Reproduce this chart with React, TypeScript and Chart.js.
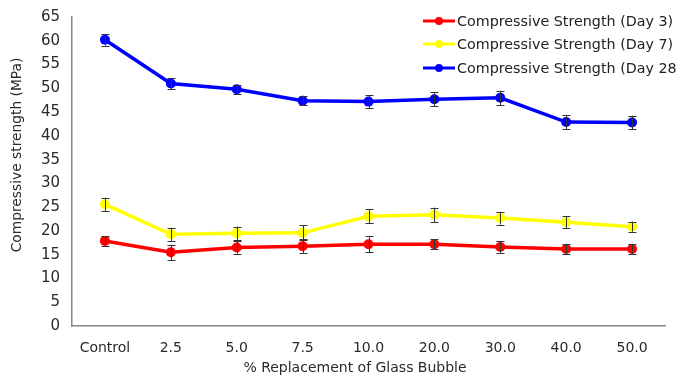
import React, { useEffect, useRef } from "react";
import { Chart, registerables } from "chart.js";

Chart.register(...registerables);

const categories = ["Control", "2.5", "5.0", "7.5", "10.0", "20.0", "30.0", "40.0", "50.0"];
const day3 = [17.9, 15.5, 16.5, 16.8, 17.2, 17.2, 16.6, 16.2, 16.2];
const day3Err = [1.0, 1.6, 1.3, 1.5, 1.7, 1.1, 1.2, 1.1, 1.1];
const day7 = [25.6, 19.3, 19.5, 19.6, 23.1, 23.4, 22.7, 21.8, 20.9];
const day7Err = [1.4, 1.4, 1.4, 1.6, 1.5, 1.5, 1.35, 1.25, 1.05];
const day28 = [60.2, 51.0, 49.8, 47.4, 47.2, 47.7, 48.0, 42.9, 42.8];
const day28Err = [1.2, 1.2, 1.0, 1.0, 1.4, 1.5, 1.5, 1.5, 1.45];
const seriesLabels = [
  "Compressive Strength (Day 3)",
  "Compressive Strength (Day 7)",
  "Compressive Strength (Day 28",
];
const seriesColors = ["#ff0000", "#ffff00", "#0000ff"];
const errors = [day3Err, day7Err, day28Err];
const xTitle = "% Replacement of Glass Bubble";
const yTitle = "Compressive strength (MPa)";

const FONT = "'DejaVu Sans', Verdana, sans-serif";

const errorBarPlugin = {
  id: "errorBars",
  afterDatasetsDraw(chart: any) {
    const ctx = chart.ctx;
    const y = chart.scales.y;
    ctx.save();
    ctx.strokeStyle = "#333333";
    ctx.lineWidth = 1;
    chart.data.datasets.forEach((ds: any, i: number) => {
      const meta = chart.getDatasetMeta(i);
      meta.data.forEach((pt: any, j: number) => {
        const v = ds.data[j];
        const e = errors[i][j];
        const x = Math.round(pt.x) + 0.5;
        const yTop = y.getPixelForValue(v + e);
        const yBot = y.getPixelForValue(v - e);
        ctx.beginPath();
        ctx.moveTo(x, yTop);
        ctx.lineTo(x, yBot);
        ctx.moveTo(x - 4, Math.round(yTop) + 0.5);
        ctx.lineTo(x + 4, Math.round(yTop) + 0.5);
        ctx.moveTo(x - 4, Math.round(yBot) + 0.5);
        ctx.lineTo(x + 4, Math.round(yBot) + 0.5);
        ctx.stroke();
      });
    });
    ctx.restore();
  },
};

const legendPlugin = {
  id: "customLegend",
  afterDraw(chart: any) {
    const ctx = chart.ctx;
    ctx.save();
    const x0 = 423;
    const ys = [21, 44, 68];
    ctx.font = `14.3px ${FONT}`;
    ctx.textBaseline = "middle";
    ctx.textAlign = "left";
    seriesLabels.forEach((label, i) => {
      const yy = ys[i];
      ctx.strokeStyle = seriesColors[i];
      ctx.lineWidth = 3;
      ctx.beginPath();
      ctx.moveTo(x0, yy);
      ctx.lineTo(x0 + 32, yy);
      ctx.stroke();
      ctx.fillStyle = seriesColors[i];
      ctx.beginPath();
      ctx.arc(x0 + 16, yy, 4, 0, Math.PI * 2);
      ctx.fill();
      ctx.fillStyle = "#222222";
      ctx.fillText(label, x0 + 34, yy + 1);
    });
    // axis titles
    ctx.fillStyle = "#2a2a2a";
    ctx.textAlign = "center";
    ctx.font = `14px ${FONT}`;
    ctx.fillText(xTitle, 355, 368);
    ctx.translate(17, 155);
    ctx.rotate(-Math.PI / 2);
    ctx.font = `13.8px ${FONT}`;
    ctx.fillText(yTitle, 0, 0);
    ctx.restore();
  },
};

export default function App() {
  const ref = useRef<HTMLCanvasElement>(null);
  useEffect(() => {
    document.body.style.margin = "0";
    const chart = new Chart(ref.current as HTMLCanvasElement, {
      type: "line",
      data: {
        labels: categories,
        datasets: [day3, day7, day28].map((d, i) => ({
          label: seriesLabels[i],
          data: d,
          borderColor: seriesColors[i],
          backgroundColor: seriesColors[i],
          borderWidth: 3.5,
          pointRadius: 5,
          pointBorderWidth: 0,
          tension: 0,
        })),
      },
      options: {
        animation: false,
        responsive: false,
        layout: { padding: { top: 17, right: 13, left: 0, bottom: 0 } },
        plugins: { legend: { display: false }, tooltip: { enabled: false } },
        scales: {
          x: {
            offset: true,
            grid: { display: false, drawTicks: false },
            border: { display: true, color: "#888888", width: 1.5 },
            ticks: { color: "#2a2a2a", font: { family: FONT, size: 14 }, padding: 14, maxRotation: 0 },
            afterFit: (s: any) => {
              s.height = 50;
            },
          },
          y: {
            min: 0,
            max: 65,
            grid: { display: false, drawTicks: true, tickLength: 8 },
            border: { display: true, color: "#888888", width: 1.5 },
            ticks: { stepSize: 5, color: "#2a2a2a", font: { family: FONT, size: 15 }, padding: 4 },
            afterFit: (s: any) => {
              s.width = 72;
            },
          },
        },
      },
      plugins: [errorBarPlugin, legendPlugin],
    });
    return () => chart.destroy();
  }, []);
  return (
    <div style={{ position: "relative", width: 678, height: 376, background: "#ffffff" }}>
      <canvas ref={ref} width={678} height={376} />
    </div>
  );
}
